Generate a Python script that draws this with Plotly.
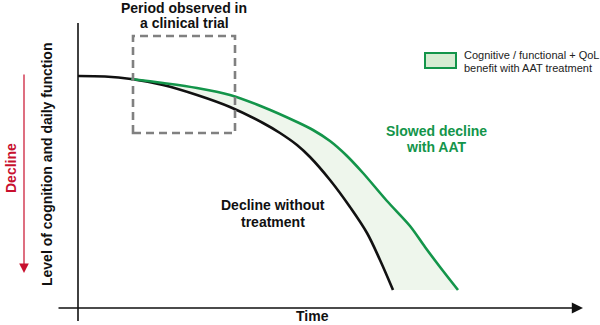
import plotly.graph_objects as go

# Conceptual data (arbitrary units): time vs. level of cognition / daily function
time_untreated = [0.00, 0.54, 1.06, 1.70, 2.38, 3.04, 3.70, 4.04, 4.38, 4.64, 5.04, 5.44, 5.78, 6.04, 6.30]
level_untreated = [92.8, 92.6, 91.6, 89.2, 85.2, 80.4, 74.0, 70.0, 65.2, 60.4, 51.2, 40.4, 30.0, 19.2, 7.2]

time_aat = [1.06, 1.70, 2.38, 3.04, 3.70, 4.38, 4.70, 5.04, 5.36, 5.70, 6.18, 6.64, 6.94, 7.24, 7.60]
level_aat = [91.6, 90.0, 88.0, 85.2, 80.4, 74.4, 71.2, 66.8, 61.2, 54.0, 42.8, 32.8, 24.4, 16.4, 7.2]

# Trial observation window (time span, level span)
trial_time = [1.10, 3.14]
trial_level = [70.0, 108.8]

legend_lines = ["Cognitive / functional + QoL", "benefit with AAT treatment"]

GREEN = "#13954a"
FILL = "#eef6ec"
RED = "#c8102e"
FONT = "Liberation Sans, Arial, sans-serif"

W, H = 600, 325

def px(x):
    return x / W

def py(y):
    return 1 - y / H

fig = go.Figure()

# Benefit area between the two curves
split = time_untreated.index(time_aat[0])
fill_x = time_aat + time_untreated[split:][::-1]
fill_y = level_aat + level_untreated[split:][::-1]
fig.add_trace(go.Scatter(x=fill_x, y=fill_y, mode="lines", fill="toself",
                         fillcolor=FILL, line=dict(width=0), hoverinfo="skip",
                         showlegend=False))

fig.add_trace(go.Scatter(x=time_untreated, y=level_untreated, mode="lines",
                         line=dict(color="#111111", width=2.6, shape="spline", smoothing=1.0),
                         showlegend=False))
fig.add_trace(go.Scatter(x=time_aat, y=level_aat, mode="lines",
                         line=dict(color=GREEN, width=2.6, shape="spline", smoothing=0.9),
                         showlegend=False))

shapes = []
# y axis line
shapes.append(dict(type="line", xref="x", yref="y", x0=0, x1=0, y0=-5.2, y1=114,
                   line=dict(color="#111111", width=1.6)))
# trial window
shapes.append(dict(type="rect", xref="x", yref="y",
                   x0=trial_time[0], x1=trial_time[1], y0=trial_level[0], y1=trial_level[1],
                   line=dict(color="#808080", width=2.6, dash="8px,5px")))
# legend swatch
shapes.append(dict(type="rect", xref="paper", yref="paper",
                   x0=px(425), x1=px(456), y0=py(68), y1=py(53),
                   fillcolor="#d6ecd2", line=dict(color=GREEN, width=2)))
fig.update_layout(shapes=shapes)

ann = []
# x axis with arrow
ann.append(dict(x=10.1, y=0, ax=-0.42, ay=0, xref="x", yref="y", axref="x", ayref="y",
                showarrow=True, arrowhead=2, arrowsize=1.4, arrowwidth=1.6,
                arrowcolor="#111111", text=""))
# red decline arrow
ann.append(dict(x=-1.08, y=14, ax=-1.08, ay=94, xref="x", yref="y", axref="x", ayref="y",
                showarrow=True, arrowhead=2, arrowsize=1.6, arrowwidth=1.2,
                arrowcolor=RED, text=""))

def txt(s, x, y, size=14, color="#111111", angle=0, xanchor="center", yanchor="middle"):
    ann.append(dict(text=s, x=px(x), y=py(y), xref="paper", yref="paper",
                    showarrow=False, xanchor=xanchor, yanchor=yanchor,
                    textangle=angle, borderpad=0,
                    font=dict(family=FONT, size=size, color=color)))

txt("<b>Period observed in</b>", 184, 8)
txt("<b>a clinical trial</b>", 184, 23)
txt("<b>Slowed decline</b>", 436, 131, color=GREEN)
txt("<b>with AAT</b>", 436, 147, color=GREEN)
txt("<b>Decline without</b>", 273, 205)
txt("<b>treatment</b>", 273, 222)
txt("<b>Time</b>", 313, 325, yanchor="bottom")
txt("<b>Level of cognition and daily function</b>", 47, 165, angle=-90)
txt("<b>Decline</b>", 11, 168, color=RED, angle=-90)
txt(legend_lines[0], 463, 55, size=11, color="#222222", xanchor="left")
txt(legend_lines[1], 463, 68, size=11, color="#222222", xanchor="left")

fig.update_layout(annotations=ann)

fig.update_layout(
    width=W, height=H, margin=dict(l=0, r=0, t=0, b=0),
    paper_bgcolor="white", plot_bgcolor="white",
    xaxis=dict(range=[-78 / 50, 522 / 50], visible=False, fixedrange=True),
    yaxis=dict(range=[(308 - 325) / 2.5, 308 / 2.5], visible=False, fixedrange=True),
    showlegend=False,
)

fig.write_html("out.html")
